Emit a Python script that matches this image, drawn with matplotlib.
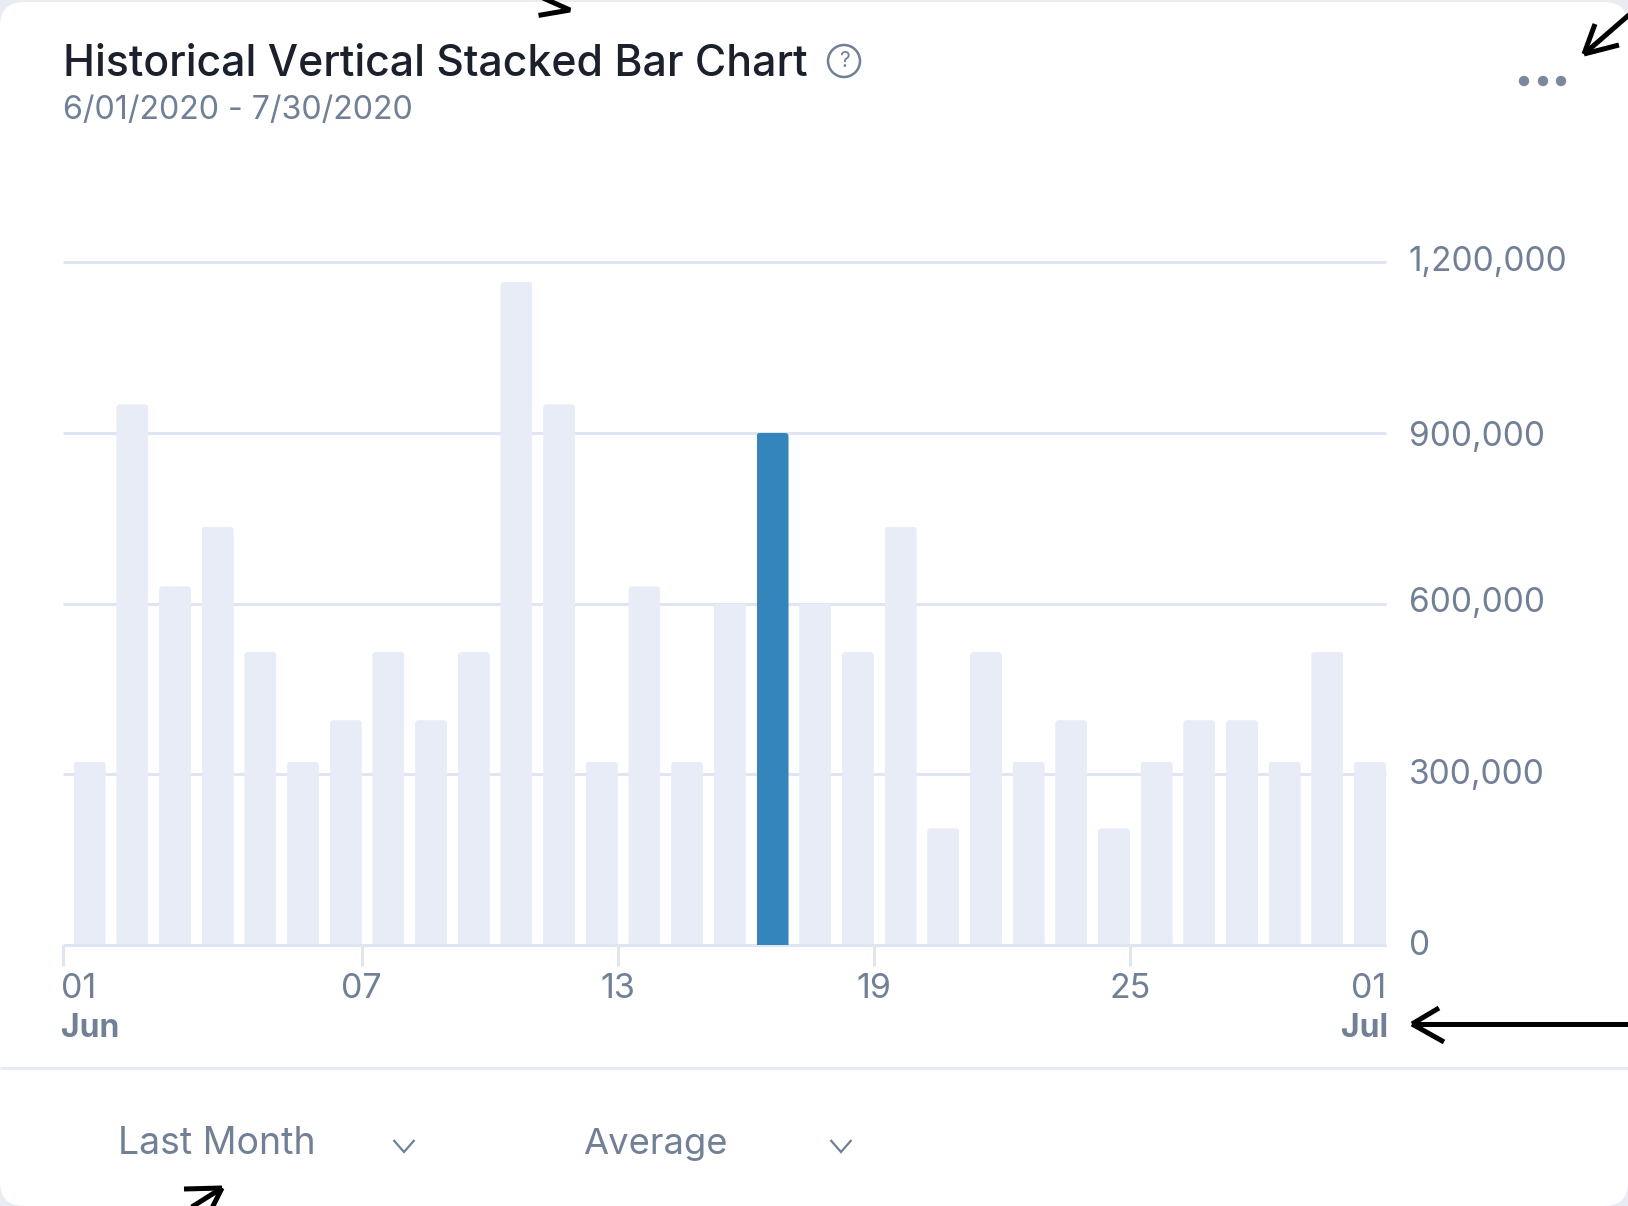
import matplotlib
matplotlib.use("Agg")
import matplotlib.pyplot as plt
from matplotlib.patches import FancyBboxPatch, Circle
from matplotlib.ticker import FuncFormatter
from matplotlib.transforms import ScaledTranslation

plt.rcParams['font.family'] = ['Inter', 'DejaVu Sans']

# ---- data ----
days = list(range(1, 32))
values = [322000, 950000, 630000, 735000, 515000, 322000, 395000, 515000, 395000, 515000,
          1165000, 950000, 322000, 630000, 322000, 600000, 900000, 600000, 515000, 735000,
          205000, 515000, 322000, 395000, 205000, 322000, 395000, 395000, 322000, 515000, 322000]
highlight_day = 17
y_ticks = [0, 300000, 600000, 900000, 1200000]
x_tick_days = [1, 7, 13, 19, 25, 31]
x_tick_labels = ['01', '07', '13', '19', '25', '01']
month_labels = ['Jun', 'Jul']
title = 'Historical Vertical Stacked Bar Chart'
subtitle = '6/01/2020 - 7/30/2020'
dropdowns = ['Last Month', 'Average']

# ---- style ----
W, H = 1628, 1206
BG = '#e9ecf3'
GRID = '#dfe5f1'
BAR = '#e8ecf6'
BLUE = '#3585bd'
GREY = '#718096'
DARK = '#1a202c'
SEP = '#e7ebf4'

fig = plt.figure(figsize=(W / 100, H / 100), dpi=100, facecolor=BG)

# card background (pixel coordinates)
bg = fig.add_axes([0, 0, 1, 1], zorder=0)
bg.set_xlim(0, W)
bg.set_ylim(H, 0)
bg.axis('off')
bg.add_patch(FancyBboxPatch((0, 2), W, H - 2, boxstyle='round,pad=0,rounding_size=24',
                            fc='white', ec='none'))
bg.plot([0, W], [1068, 1068], color=SEP, lw=2.2, solid_capstyle='butt')

# chart axes
L, R, T, B = 63, 1386, 262, 945
ax = fig.add_axes([L / W, 1 - B / H, (R - L) / W, (B - T) / H], zorder=1)
ax.patch.set_alpha(0)
step = (R - L) / 31
bar_w = 32 / step
ax.set_xlim(0.375, 31.375)
ax.set_ylim(0, 1200000)
ax.set_axisbelow(True)
ax.grid(axis='y', color=GRID, lw=2.2, zorder=0, clip_on=False, solid_capstyle='butt')
ax.grid(axis='x', visible=False)
for s in ['top', 'left', 'right']:
    ax.spines[s].set_visible(False)
ax.spines['bottom'].set_color(GRID)
ax.spines['bottom'].set_linewidth(2.2)
ax.spines['bottom'].set_capstyle('butt')

colors = [BLUE if d == highlight_day else BAR for d in days]
rects = ax.bar(days, values, width=bar_w, color=colors, zorder=2)
px_x = step
px_y = (B - T) / 1200000
for r, d in zip(rects, days):
    rad = 4 / px_x
    clip = FancyBboxPatch((r.get_x(), -100000), r.get_width(), r.get_height() + 100000,
                          boxstyle=f'round,pad=0,rounding_size={rad}',
                          mutation_aspect=px_x / px_y, transform=ax.transData)
    r.set_clip_path(clip)
    if d == highlight_day:
        r.set_zorder(3)

# y axis on the right
ax.yaxis.tick_right()
ax.set_yticks(y_ticks)
ax.yaxis.set_major_formatter(FuncFormatter(lambda v, _: f'{int(v):,}'))
ax.tick_params(axis='y', length=0, pad=16.5, labelsize=24, labelcolor=GREY)
for lab, dy in zip(ax.get_yticklabels(), [-1, -1, 0, -4, 0]):
    lab.set_verticalalignment('center')
    lab.set_transform(lab.get_transform() + ScaledTranslation(0, dy / 100, fig.dpi_scale_trans))
for gl in ax.get_ygridlines():
    gl.set_solid_capstyle('butt')

# x axis: ticks on the band edges
tick_pos = [d + 0.375 if d > 1 else d - 0.625 for d in x_tick_days]
ax.set_xticks(tick_pos)
ax.set_xticklabels(x_tick_labels)
ax.tick_params(axis='x', length=15, width=2.2, color=GRID, pad=5, labelsize=24.5, labelcolor=GREY)
xt = ax.get_xticklabels()
xt[0].set_ha('left')
xt[-1].set_ha('right')
xt[0].set_transform(xt[0].get_transform() + ScaledTranslation(-2 / 100, 0, fig.dpi_scale_trans))
ax.xaxis.get_major_ticks()[-1].tick1line.set_visible(False)

# overlay
ov = fig.add_axes([0, 0, 1, 1], zorder=2)
ov.set_xlim(0, W)
ov.set_ylim(H, 0)
ov.axis('off')
ov.patch.set_alpha(0)

ov.text(63, 76, title, fontsize=30.8, color=DARK, weight=500, ha='left', va='baseline')
ov.text(63, 119, subtitle, fontsize=23.2, color=GREY, ha='left', va='baseline')
ov.add_patch(Circle((844, 61), 16, fc='none', ec=GREY, lw=1.8))
ov.text(844, 61, '?', fontsize=15, color=GREY, ha='center', va='center')
for x in [1524, 1543, 1561]:
    ov.add_patch(Circle((x, 81), 5.2, fc='#7b879c', ec='none'))

ov.text(61, 1037, month_labels[0], fontsize=23, color=GREY, weight='bold', ha='left', va='baseline')
ov.text(1388, 1037, month_labels[1], fontsize=23, color=GREY, weight='bold', ha='right', va='baseline')

ov.text(118, 1154, dropdowns[0], fontsize=27, color=GREY, ha='left', va='baseline')
ov.text(583, 1154, dropdowns[1], fontsize=26.2, color=GREY, ha='left', va='baseline')
for cx in [404, 841]:
    ov.plot([cx - 10.5, cx, cx + 10.5], [1140, 1152, 1140], color=GREY, lw=1.6,
            solid_joinstyle='miter', solid_capstyle='butt')

# annotation arrows drawn on the screenshot
def arrow(shaft, tip, barbs, lw=3.6):
    ov.plot([shaft[0], tip[0]], [shaft[1], tip[1]], color='black', lw=lw, solid_capstyle='butt')
    for b in barbs:
        ov.plot([b[0], tip[0]], [b[1], tip[1]], color='black', lw=lw, solid_capstyle='butt')

ov.plot([541, 570, 543], [15, 10, -2], color='black', lw=3.6, solid_joinstyle='bevel')
arrow((1630, 14), (1584, 54), [(1595, 24), (1619, 45)])
arrow((1630, 1024), (1412, 1024), [(1439, 1008), (1444, 1042)])
arrow((187, 1210), (222, 1188), [(184, 1189), (212, 1208)])

fig.savefig('out.png', dpi=100, facecolor=BG)
